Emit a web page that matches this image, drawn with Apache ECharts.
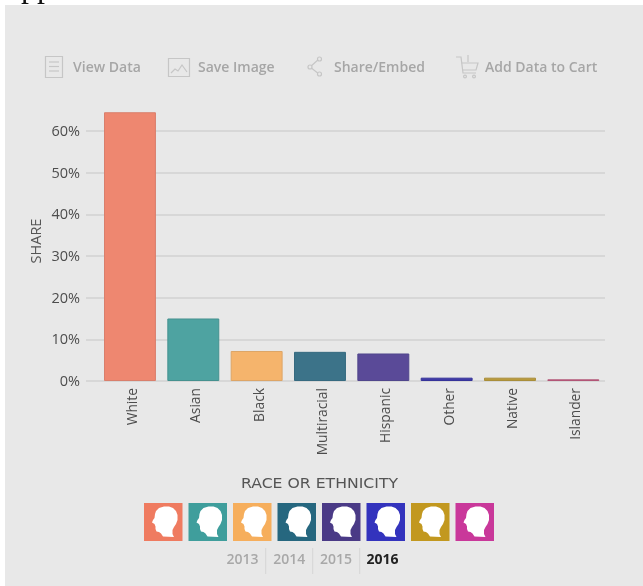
<!DOCTYPE html>
<html><head><meta charset="utf-8">
<style>html,body{margin:0;padding:0;background:#fff;overflow:hidden}#c{width:643px;height:586px}#c canvas{filter:blur(0.5px)}</style>
<script src="https://cdn.jsdelivr.net/npm/echarts@6/dist/echarts.min.js"></script>
</head><body><div id="c"></div>
<script>
const categories = ['White','Asian','Black','Multiracial','Hispanic','Other','Native','Islander'];
const shares = [64.5,15,7.2,7,6.6,0.8,0.8,0.4];
const barColors = ['#ee8770','#4ea3a1','#f5b46c','#3c7389','#5a4a98','#3f3aa6','#b99a3c','#c0587e'];
const barBorders = ['#d97f6c','#45918f','#dda567','#366a80','#50468c','#35339a','#a98e3a','#b25677'];
const tileColors = ['#ef7b60','#3f9e9c','#f6ae5c','#26677f','#4a3a86','#3333bd','#c2981f','#c9389a'];
const years = ['2013','2014','2015','2016'];
const yTicksMax = 70;
const toolbar = ['View Data','Save Image','Share/Embed','Add Data to Cart'];
const FONT = '"Open Sans", sans-serif';
const ICON = '#c6c6c6', TXT = '#a6a6a6';
const g = [];
g.push({type:'rect',shape:{x:5,y:5,width:638,height:581},style:{fill:'#e8e8e8'},z:-10,silent:true});
g.push({type:'text',x:21,y:-27,style:{text:'pp',font:'32px "Liberation Serif", serif',fill:'#111'},z:-9});
// toolbar texts
[[73,0],[198,1],[334,2],[485,3]].forEach(([x,i])=>g.push({type:'text',x,y:68,style:{text:toolbar[i],font:'600 14px '+FONT,fill:TXT,verticalAlign:'middle'}}));
const line={stroke:ICON,lineWidth:1.2,fill:'none'};
// document icon
g.push({type:'rect',shape:{x:45.5,y:56.5,width:17,height:21},style:line});
[62,66.5,71].forEach(y=>g.push({type:'line',shape:{x1:49,y1:y,x2:59,y2:y},style:line}));
// image icon
g.push({type:'rect',shape:{x:168.5,y:58.5,width:21,height:18},style:line});
g.push({type:'polyline',shape:{points:[[171,73],[175,69],[178,71],[182,65],[187,72]]},style:line});
// share icon
g.push({type:'polyline',shape:{points:[[319,59],[310,67],[319,74]]},style:line});
[[319.5,59,2],[310,67,2],[319.5,74,2]].forEach(([cx,cy,r])=>g.push({type:'circle',shape:{cx,cy,r},style:{stroke:ICON,lineWidth:1.2,fill:'#e8e8e8'}}));
// cart icon
g.push({type:'polyline',shape:{points:[[456,57],[461,57],[463,73],[476,73]]},style:line});
g.push({type:'polyline',shape:{points:[[461.5,63],[478,63],[476,70],[462.5,70]]},style:line});
g.push({type:'line',shape:{x1:468,y1:55,x2:468,y2:62},style:line});
[[465,76.5],[474,76.5]].forEach(([cx,cy])=>g.push({type:'circle',shape:{cx,cy,r:1.4},style:line}));
// y axis title
g.push({type:'text',x:37,y:241,rotation:Math.PI/2,style:{text:'SHARE',font:'14.5px '+FONT,fill:'#555',align:'center',verticalAlign:'middle'}});
// legend title
g.push({type:'text',x:319.5,y:484,scaleX:1.12,style:{text:'RACE OR ETHNICITY',font:'14px "DejaVu Sans", sans-serif',fill:'#555',align:'center',verticalAlign:'middle'}});
// legend tiles
const HEAD=[[12,8],[15,5],[20,3.5],[25,3.5],[29,5],[32,8],[33.5,12],[33.5,17],[32,21],[30,24],[28.5,27],[28.5,31],[30,34],[19,33.5],[17,30.5],[15,29],[12.5,28.5],[11.5,26],[11.5,23.5],[10.5,21],[8,19.5],[9,17],[10.5,15],[11,11]];
tileColors.forEach((c,i)=>{
  const x=144+i*44.5;
  g.push({type:'rect',shape:{x,y:503,width:38.5,height:38},style:{fill:c}});
  g.push({type:'polygon',x,y:503,shape:{points:HEAD},style:{fill:'#fff'}});
});
// years
years.forEach((y,i)=>{
  const last=i===years.length-1;
  g.push({type:'text',x:242.5+i*46.7,y:560,style:{text:y,font:(last?'bold ':'600 ')+'14px '+FONT,fill:last?'#222':'#a8a8a8',align:'center',verticalAlign:'middle'}});
  if(!last) g.push({type:'line',shape:{x1:265.7+i*47,y1:548,x2:265.7+i*47,y2:574},style:{stroke:'#d6d6d6',lineWidth:1}});
});
const chart=echarts.init(document.getElementById('c'),null,{renderer:'canvas',width:643,height:586});
const gridTop=89.33, gridBottom=205;
chart.setOption({
  animation:false,
  graphic:g,
  grid:[
    {left:86,right:38,top:gridTop,bottom:gridBottom},
    {left:98.3,right:38,top:gridTop,bottom:gridBottom}
  ],
  xAxis:[
    {gridIndex:0,type:'category',show:false,data:categories},
    {gridIndex:1,type:'category',data:categories,
      axisLine:{show:false},axisTick:{show:false},
      axisLabel:{rotate:90,interval:0,margin:7,verticalAlign:'top',lineHeight:6,fontFamily:FONT,fontSize:13.8,color:'#4d4d4d'}}
  ],
  yAxis:[
    {gridIndex:0,type:'value',min:0,max:yTicksMax,interval:10,
      axisLine:{show:false},axisTick:{show:false},
      axisLabel:{margin:6,verticalAlign:'top',lineHeight:2,showMaxLabel:false,formatter:'{value}%',fontFamily:FONT,fontSize:14.5,color:'#4d4d4d'},
      splitLine:{show:true,showMaxLine:false,lineStyle:{color:'#d2d2d2',width:1.5}}},
    {gridIndex:1,type:'value',min:0,max:yTicksMax,interval:10,show:false,splitLine:{show:false}}
  ],
  series:[{type:'bar',xAxisIndex:1,yAxisIndex:1,barWidth:'82%',
    data:shares.map((v,i)=>({value:v,itemStyle:{color:barColors[i],borderColor:barBorders[i],borderWidth:1}}))}]
});
</script></body></html>
